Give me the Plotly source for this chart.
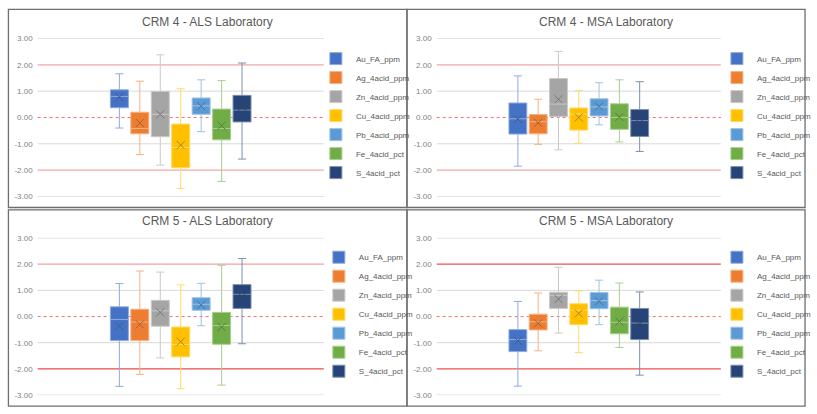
import plotly.graph_objects as go

W, H = 817, 414

series = ["Au_FA_ppm", "Ag_4acid_ppm", "Zn_4acid_ppm", "Cu_4acid_ppm",
          "Pb_4acid_ppm", "Fe_4acid_pct", "S_4acid_pct"]
colors = ["#4472C4", "#ED7D31", "#A5A5A5", "#FFC000", "#5B9BD5", "#70AD47", "#264478"]
panel_titles = ["CRM 4 - ALS Laboratory", "CRM 4 - MSA Laboratory",
                "CRM 5 - ALS Laboratory", "CRM 5 - MSA Laboratory"]
ytick_vals = [3, 2, 1, 0, -1, -2, -3]
ytick_text = ["3.00", "2.00", "1.00", "0.00", "-1.00", "-2.00", "-3.00"]
limit_vals = [2, -2]
target_val = 0

# CRM 4 - ALS
crm4_als_lower = [-0.40, -1.41, -1.81, -2.70, -0.54, -2.43, -1.58]
crm4_als_q1 = [0.37, -0.62, -0.73, -1.91, 0.12, -0.85, -0.17]
crm4_als_median = [0.80, -0.42, 0.12, -1.14, 0.44, -0.42, 0.28]
crm4_als_q3 = [1.05, 0.20, 0.99, -0.25, 0.74, 0.32, 0.84]
crm4_als_upper = [1.66, 1.38, 2.38, 1.09, 1.43, 1.40, 2.07]
crm4_als_mean = [0.77, -0.21, 0.12, -1.05, 0.43, -0.31, 0.40]

# CRM 4 - MSA
crm4_msa_lower = [-1.85, -1.02, -1.23, -0.98, -0.28, -0.93, -1.29]
crm4_msa_q1 = [-0.63, -0.62, 0.04, -0.48, 0.06, -0.45, -0.72]
crm4_msa_median = [-0.05, -0.16, 0.51, 0.13, 0.40, 0.00, -0.12]
crm4_msa_q3 = [0.55, 0.11, 1.48, 0.36, 0.71, 0.52, 0.30]
crm4_msa_upper = [1.58, 0.69, 2.51, 1.02, 1.32, 1.43, 1.36]
crm4_msa_mean = [-0.06, -0.20, 0.69, 0.00, 0.42, 0.02, -0.21]

# CRM 5 - ALS
crm5_als_lower = [-2.67, -2.21, -1.58, -2.76, -0.35, -2.62, -1.04]
crm5_als_q1 = [-0.92, -0.92, -0.37, -1.54, 0.24, -1.06, 0.31]
crm5_als_median = [-0.11, -0.21, 0.22, -1.07, 0.47, -0.34, 0.85]
crm5_als_q3 = [0.37, 0.28, 0.62, -0.40, 0.72, 0.16, 1.22]
crm5_als_upper = [1.26, 1.74, 1.70, 1.21, 1.27, 1.96, 2.22]
crm5_als_mean = [-0.37, -0.30, 0.16, -0.96, 0.44, -0.40, 0.76]

# CRM 5 - MSA
crm5_msa_lower = [-2.66, -1.31, -0.63, -1.38, -0.31, -1.18, -2.24]
crm5_msa_q1 = [-1.34, -0.51, 0.31, -0.31, 0.30, -0.66, -0.88]
crm5_msa_median = [-0.88, -0.20, 0.81, 0.24, 0.61, -0.22, -0.25]
crm5_msa_q3 = [-0.50, 0.09, 0.93, 0.49, 0.92, 0.36, 0.31]
crm5_msa_upper = [0.58, 0.90, 1.88, 0.98, 1.39, 1.28, 0.94]
crm5_msa_mean = [-0.93, -0.26, 0.67, 0.12, 0.58, -0.19, -0.29]

panels = [
    (crm4_als_lower, crm4_als_q1, crm4_als_median, crm4_als_q3, crm4_als_upper, crm4_als_mean),
    (crm4_msa_lower, crm4_msa_q1, crm4_msa_median, crm4_msa_q3, crm4_msa_upper, crm4_msa_mean),
    (crm5_als_lower, crm5_als_q1, crm5_als_median, crm5_als_q3, crm5_als_upper, crm5_als_mean),
    (crm5_msa_lower, crm5_msa_q1, crm5_msa_median, crm5_msa_q3, crm5_msa_upper, crm5_msa_mean),
]


def mix(hexc, other, t):
    a = [int(hexc[i:i + 2], 16) for i in (1, 3, 5)]
    b = [int(other[i:i + 2], 16) for i in (1, 3, 5)]
    c = [round(a[k] + (b[k] - a[k]) * t) for k in range(3)]
    return "#%02X%02X%02X" % tuple(c)


# pixel layout of each panel
plot_px = [(38, 327, 35, 197), (441, 728, 35, 197), (38, 327, 239, 400), (441, 728, 239, 400)]
title_px = [(210, 18), (612, 18), (210, 222), (612, 222)]
legend_px = [(319, 41), (724, 41), (322, 244), (724, 244)]
border_px = [(8.5, 5.5, 411, 208), (411, 5.5, 813, 208), (8.5, 210.5, 411, 411), (411, 210.5, 813, 411)]
pm2_colors = [("#F4A7A7", "#F4A7A7"), ("#F4A7A7", "#F4A7A7"), ("#F4A0A0", "#E84A4A"), ("#F25050", "#F25050")]

fig = go.Figure()
cat = ["CRM"]
for p, (lo, q1, md, q3, up, mn) in enumerate(panels):
    ax = "" if p == 0 else str(p + 1)
    leg = "legend" if p == 0 else "legend" + str(p + 1)
    for i, name in enumerate(series):
        fig.add_trace(go.Box(
            x=cat, q1=[q1[i]], median=[md[i]], q3=[q3[i]],
            lowerfence=[lo[i]], upperfence=[up[i]],
            name=name, offsetgroup=name, boxpoints=False,
            fillcolor=colors[i], line=dict(color=mix(colors[i], "#FFFFFF", 0.4), width=1),
            whiskerwidth=0.45, xaxis="x" + ax, yaxis="y" + ax, legend=leg,
            hoverinfo="skip"))
    for i, name in enumerate(series):
        xc = mix(colors[i], "#404040", 0.45)
        fig.add_trace(go.Scatter(
            x=cat, y=[mn[i]], mode="markers", offsetgroup=name, showlegend=False,
            marker=dict(symbol="x-thin-open", size=8, color=xc,
                        line=dict(color=xc, width=1)),
            xaxis="x" + ax, yaxis="y" + ax, hoverinfo="skip"))

layout = dict(
    width=W, height=H, margin=dict(l=0, r=0, t=0, b=0),
    paper_bgcolor="white", plot_bgcolor="white",
    boxmode="group", boxgap=0.5, boxgroupgap=0.12,
    scattermode="group", scattergap=0.5,
    font=dict(family="Liberation Sans, Arial, sans-serif", color="#595959"),
)
shapes = []
annotations = []
for p in range(4):
    ax = "" if p == 0 else str(p + 1)
    x0, x1, yt, yb = plot_px[p]
    layout["xaxis" + ax] = dict(domain=[x0 / W, x1 / W], anchor="y" + ax, type="category",
                                range=[-0.5, 0.5], showgrid=False, zeroline=False,
                                showticklabels=False, showline=False, ticks="")
    layout["yaxis" + ax] = dict(domain=[1 - yb / H, 1 - yt / H], anchor="x" + ax,
                                range=[-3.01, 3.01], tickvals=ytick_vals, ticktext=ytick_text,
                                showgrid=False, zeroline=False, showline=False, ticks="",
                                ticklabelstandoff=4,
                                tickfont=dict(size=8, color="#7F7F7F"))
    lx, ly = legend_px[p]
    leg = "legend" if p == 0 else "legend" + str(p + 1)
    layout[leg] = dict(x=lx / W, y=1 - ly / H, xanchor="left", yanchor="top",
                       font=dict(size=8, color="#595959"), bgcolor="rgba(0,0,0,0)",
                       itemwidth=30, tracegroupgap=0)
    tx, ty = title_px[p]
    annotations.append(dict(text=panel_titles[p], x=tx / W, y=1 - ty / H, xref="paper", yref="paper",
                            xanchor="center", yanchor="middle", showarrow=False,
                            font=dict(size=12, color="#595959")))
    # gridlines (drawn as shapes so the limit lines can sit on top of them)
    for yv in ytick_vals:
        if yv in limit_vals or yv == target_val:
            continue
        shapes.append(dict(type="line", xref="x" + ax + " domain", yref="y" + ax,
                           x0=0, x1=1, y0=yv, y1=yv, line=dict(color="#D9D9D9", width=1),
                           layer="below"))
    c_hi, c_lo = pm2_colors[p]
    for yv, col in zip(limit_vals, (c_hi, c_lo)):
        shapes.append(dict(type="line", xref="x" + ax + " domain", yref="y" + ax,
                           x0=0, x1=1, y0=yv, y1=yv, line=dict(color=col, width=1.2), layer="below"))
    shapes.append(dict(type="line", xref="x" + ax + " domain", yref="y" + ax,
                       x0=0, x1=1, y0=target_val, y1=target_val,
                       line=dict(color="#F07070", width=1, dash="dot"), layer="below"))
    bx0, by0, bx1, by1 = border_px[p]
    shapes.append(dict(type="rect", xref="paper", yref="paper",
                       x0=bx0 / W, x1=bx1 / W, y0=1 - by1 / H, y1=1 - by0 / H,
                       line=dict(color="#6E6E6E", width=1.3)))

layout["shapes"] = shapes
layout["annotations"] = annotations
fig.update_layout(**layout)

post = ("document.body.style.margin='0';document.body.style.padding='0';"
        "var gd=document.getElementById('{plot_id}');gd.style.position='fixed';"
        "gd.style.left='0px';gd.style.top='0px';")
fig.write_html("out.html", post_script=post, config={"displayModeBar": False})
